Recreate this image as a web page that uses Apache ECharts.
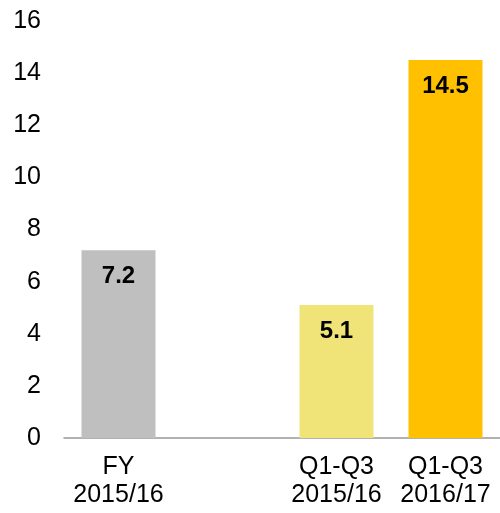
<!DOCTYPE html>
<html>
<head>
<meta charset="utf-8">
<script src="https://cdn.jsdelivr.net/npm/echarts@6/dist/echarts.min.js"></script>
<style>html,body{margin:0;padding:0;background:#fff}#c{width:500px;height:513px}</style>
</head>
<body>
<div id="c"></div>
<script>
const categories = ["FY\n2015/16", "", "Q1-Q3\n2015/16", "Q1-Q3\n2016/17"];
const values = [7.2, null, 5.1, 14.5];
const barColors = ["#BFBFBF", "#BFBFBF", "#F0E479", "#FFC000"];
const yTicks = [0, 2, 4, 6, 8, 10, 12, 14, 16];

const chart = echarts.init(document.getElementById('c'), null, {renderer: 'canvas'});
chart.setOption({
  animation: false,
  grid: {left: 64, top: 21, width: 440, bottom: 75, containLabel: false},
  xAxis: {
    type: 'category',
    data: categories,
    axisLine: {lineStyle: {color: '#999999', width: 1.5}},
    axisTick: {show: false},
    axisLabel: {color: '#000', fontFamily: 'Liberation Sans, Arial', fontSize: 25, lineHeight: 28, margin: 15, interval: 0}
  },
  yAxis: {
    type: 'value',
    min: yTicks[0], max: yTicks[yTicks.length - 1], interval: 2,
    splitLine: {show: false},
    axisLine: {show: false},
    axisTick: {show: false},
    axisLabel: {color: '#000', fontFamily: 'Liberation Sans, Arial', fontSize: 25, margin: 23}
  },
  series: [{
    type: 'bar',
    data: values.map((v, i) => v == null ? null : {value: v, itemStyle: {color: barColors[i]}}),
    barWidth: 74,
    label: {
      show: true,
      position: 'insideTop',
      distance: 14,
      color: '#000',
      fontWeight: 'bold',
      fontSize: 24,
      fontFamily: 'Liberation Sans, Arial',
      formatter: p => p.value.toFixed(1)
    }
  }]
});
</script>
</body>
</html>
